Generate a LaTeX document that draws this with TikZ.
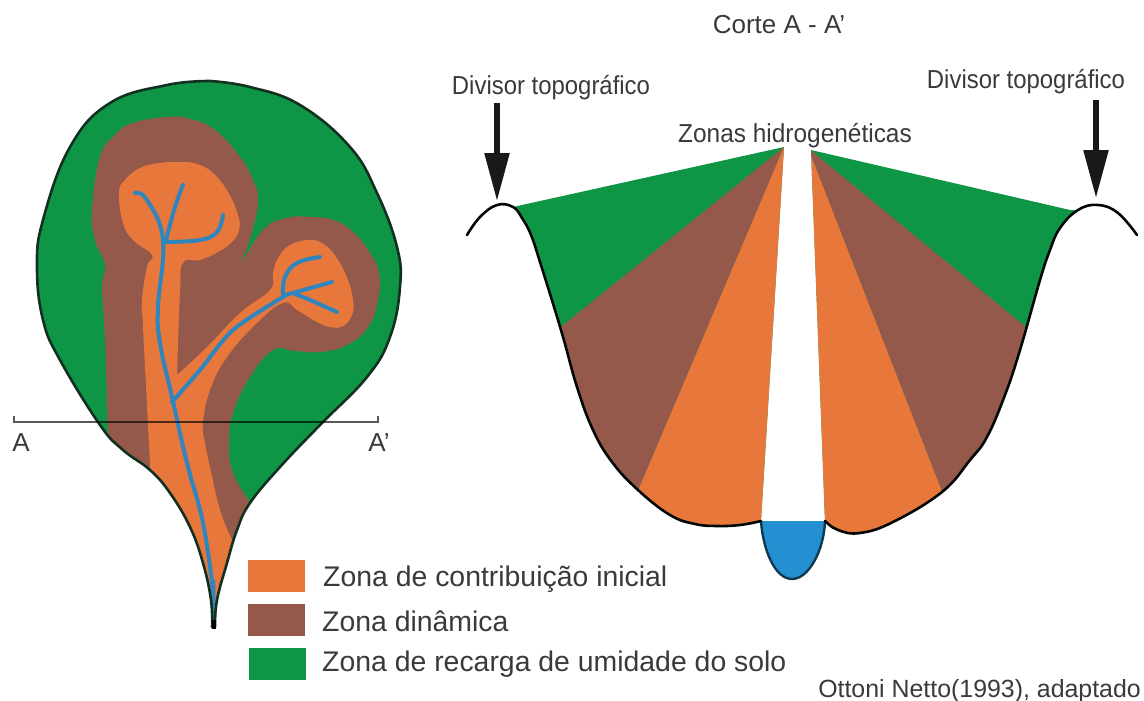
\documentclass[tikz,border=0pt]{standalone}
\usepackage{fontspec}
\setmainfont{Liberation Sans}
\usetikzlibrary{arrows.meta}
\definecolor{gz}{HTML}{0E9646}
\definecolor{bz}{HTML}{94594A}
\definecolor{oz}{HTML}{E8773C}
\definecolor{rv}{HTML}{2F86BE}
\definecolor{wt}{HTML}{2490D2}
\definecolor{ol}{HTML}{12301F}
\definecolor{tx}{HTML}{3A3A3A}
\tikzset{
  river/.style={draw=rv,line width=4pt,line cap=round,line join=round},
  border/.style={draw=ol,line width=2.6pt,line join=round},
  secborder/.style={draw=black!85!ol,line width=2.6pt,line cap=round},
  label/.style={inner sep=0pt,text=tx,font=\fontsize{28.4}{28}\selectfont,anchor=west},
  small/.style={inner sep=0pt,text=tx,font=\fontsize{26}{26}\selectfont},
  downarrow/.style={draw=black!90,line width=5.5pt,-{Triangle[length=48pt,width=24pt]}},
  legend/.style={draw=none,inner sep=0pt,minimum width=57pt,minimum height=32pt},
}
\newcommand\basin{plot[smooth,tension=.7] coordinates{(210,81)(250,87)(300,105)(350,147)(377,193)(397,247)(400,287)(390,337)(367,377)(320,425)(280,467)(250,503)(237,530)(227,563)(217,600)(215,627)}
 -- plot[smooth,tension=.7] coordinates{(212,627)(211,600)(203,563)(190,527)(170,493)(150,470)(123,450)(100,425)(60,360)(43,320)(37,267)(43,220)(70,147)(110,103)(167,85)(210,81)} -- cycle}
\newcommand\valleyL{plot[smooth,tension=.7] coordinates{(513,207)(522,218)(531,235)(540,262)(561,330)(577,387)(593,430)(612,462)(638,490)(670,515)(695,524)(717,526)(740,525)(761,521)}}
\newcommand\valleyR{plot[smooth,tension=.7] coordinates{(825,521)(838,530)(860,533)(893,522)(942,492)(970,460)(987,437)(1005,395)(1020,350)(1040,280)(1050,250)(1060,228)(1078,210)}}
\begin{document}
\begin{tikzpicture}[x=1pt,y=-1pt]
\useasboundingbox (0,0) rectangle (1144,701);
% ---- basin map
\fill[gz] \basin;
\begin{scope}
\clip \basin;
\fill[bz] plot[smooth,tension=.75] coordinates{(108,440)(105,340)(102,287)(105,265)(95,240)(92,210)(100,157)(115,135)(133,123)(167,117)(190,119)(215,130)(240,157)(253,180)(258,200)(252,232)(240,267)}
 -- plot[smooth,tension=.75] coordinates{(240,267)(263,230)(287,218)(310,217)(333,220)(352,231)(368,250)(379,273)(378,300)(368,327)(347,345)(320,352)(295,351)(273,350)(250,377)(233,413)(229,443)(233,473)(252,505)} -- (250,600) -- (108,600) -- cycle;
\fill[oz] plot[smooth,tension=.75] coordinates{(152,500)(148,425)(143,327)(142,300)(147,267)(152,255)(133,240)(123,223)(119,193)(125,180)(140,168)(160,163)(180,162)(197,164)(213,173)(228,192)(238,215)(239,230)(232,242)(218,252)(200,260)(183,263)(180,293)(177,375)}
 -- plot[smooth,tension=.75] coordinates{(177,375)(207,347)(240,313)(270,290)(273,273)(278,258)(290,245)(310,240)(325,245)(338,260)(348,280)(353,300)(352,315)(343,326)(330,327)(315,321)(297,310)(283,303)(257,323)(227,357)(210,390)(203,423)(205,443)(210,467)(220,510)(232,540)} -- (232,640) -- (152,640) -- cycle;
\draw[river] plot[smooth,tension=.7] coordinates{(213,590)(203,523)(187,463)(172,397)(160,343)(158,307)(163,240)(147,200)(135,193)};
\draw[river] plot[smooth,tension=.7] coordinates{(183,185)(175,207)(166,240)};
\draw[river] plot[smooth,tension=.7] coordinates{(166,242)(200,240)(217,232)(223,215)};
\draw[river] plot[smooth,tension=.5] coordinates{(172,402)(200,370)(233,330)(283,297)(293,293)(332,282)};
\draw[river] plot[smooth,tension=.5] coordinates{(293,293)(310,300)(337,312)};
\draw[river] plot[smooth,tension=.7] coordinates{(283,295)(285,277)(297,263)(320,257)};
\fill[rv] (210.5,580) -- (215.5,580) -- (215,622) -- (212,622) -- cycle;
\end{scope}
\draw[border] \basin;
\fill[black] (211.5,620) rectangle (215.5,629);
% ---- section line
\coordinate (A1) at (14,422);
\coordinate (A2) at (378,422);
\coordinate (A1t) at (14,416);
\coordinate (A2t) at (378,416);
\draw[draw=black,opacity=.65,line width=2pt] (A1t) -- (A1) -- (A2) -- (A2t);
\node[small] (lA) at (21,443) {A};
\node[small] (lAp) at (379,443) {A’};
% ---- cross section, left half
\begin{scope}
\clip \valleyL -- (784,147) -- cycle;
\fill[gz] (500,140) rectangle (790,560);
\fill[bz] (784,147) -- (516,363) -- (516,600) -- (609,559) -- cycle;
\fill[oz] (784,147) -- (609,559) -- (790,559) -- cycle;
\end{scope}
% ---- cross section, right half
\begin{scope}
\clip \valleyR -- (1070,210) -- (811,150) -- cycle;
\fill[gz] (800,140) rectangle (1090,560);
\fill[bz] (808,148) -- (1072,365) -- (1072,600) -- (985,602) -- cycle;
\fill[oz] (808,148) -- (985,602) -- (800,602) -- cycle;
\end{scope}
% ---- water
\fill[wt] (761,521) .. controls (763,550) and (775,579) .. (792,579) .. controls (809,579) and (824,550) .. (825,521) -- cycle;
\draw[draw=black!60!wt,line width=2.4pt] (761,521) .. controls (763,550) and (775,579) .. (792,579) .. controls (809,579) and (824,550) .. (825,521);
% ---- section outline
\draw[secborder] plot[smooth,tension=.7] coordinates{(467,235)(480,217)(497,205)(513,207)(522,218)(531,235)(540,262)(561,330)(577,387)(593,430)(612,462)(638,490)(670,515)(695,524)(717,526)(740,525)(761,521)};
\draw[secborder] plot[smooth,tension=.7] coordinates{(825,521)(838,530)(860,533)(893,522)(942,492)(970,460)(987,437)(1005,395)(1020,350)(1040,280)(1050,250)(1060,228)(1078,210)(1098,205)(1118,213)(1137,235)};
% ---- labels
\node[small] (title) at (779,25) {Corte A - A’};
\node[small,xscale=.92] (divL) at (551,88) {Divisor topográfico};
\node[small,xscale=.92] (divR) at (1026,82) {Divisor topográfico};
\node[small,xscale=.94] (zonas) at (795,136) {Zonas hidrogenéticas};
\coordinate (sL) at (497,103);
\coordinate (tL) at (497,201);
\coordinate (sR) at (1096,100);
\coordinate (tR) at (1096,198);
\draw[downarrow] (sL) -- (tL);
\draw[downarrow] (sR) -- (tR);
% ---- legend
\node[legend,fill=oz] (k1) at (276.5,576) {};
\node[legend,fill=bz] (k2) at (276.5,620) {};
\node[legend,fill=gz] (k3) at (277,664) {};
\node[label] (t1) at (323,579) {Zona de contribuição inicial};
\node[label] (t2) at (322,621) {Zona dinâmica};
\node[label] (t3) at (322,664) {Zona de recarga de umidade do solo};
\node[small,font=\fontsize{24.9}{25}\selectfont,anchor=east] (src) at (1141,691) {Ottoni Netto(1993), adaptado};
\end{tikzpicture}
\end{document}
